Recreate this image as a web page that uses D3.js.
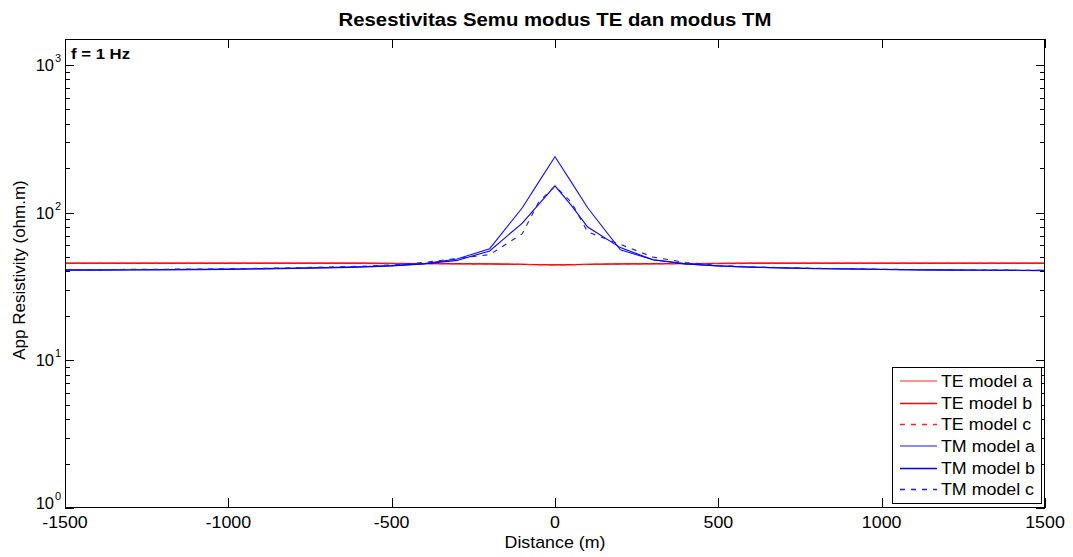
<!DOCTYPE html>
<html>
<head>
<meta charset="utf-8">
<script src="https://cdn.jsdelivr.net/npm/d3@7/dist/d3.min.js"></script>
<style>
  html, body { margin: 0; padding: 0; background: #fff; }
  svg { display: block; font-family: Arial, "Liberation Sans", Helvetica, sans-serif; }
</style>
</head>
<body>
<svg id="chart" width="1073" height="557"></svg>
<script>
// ---- data ----
const distance = [-1500,-1400,-1300,-1200,-1100,-1000,-900,-800,-700,-600,-500,-400,-300,-200,-100,-50,0,50,100,200,300,400,500,600,700,800,900,1000,1100,1200,1300,1400,1500];

const teModelA = [45.3,45.3,45.3,45.3,45.3,45.3,45.3,45.3,45.3,45.3,45.2,45.1,45.0,44.9,44.6,44.4,44.3,44.4,44.6,44.9,45.0,45.1,45.2,45.3,45.3,45.3,45.3,45.3,45.3,45.3,45.3,45.3,45.3];
const teModelB = [45.5,45.5,45.5,45.5,45.5,45.5,45.5,45.5,45.5,45.5,45.4,45.3,45.2,45.0,44.7,44.5,44.4,44.5,44.7,45.0,45.2,45.3,45.4,45.5,45.5,45.5,45.5,45.5,45.5,45.5,45.5,45.5,45.5];
const teModelC = [45.4,45.4,45.4,45.4,45.4,45.4,45.4,45.4,45.4,45.4,45.3,45.2,45.1,44.9,44.6,44.4,44.2,44.4,44.6,44.9,45.1,45.2,45.3,45.4,45.4,45.4,45.4,45.4,45.4,45.4,45.4,45.4,45.4];

const tmModelA = [41.0,41.0,41.1,41.2,41.3,41.5,41.8,42.1,42.5,43.0,43.8,45.2,48.5,57.0,108,161,239,161,108,56.0,48.0,45.0,43.6,42.8,42.3,41.9,41.6,41.3,41.1,41.0,40.9,40.8,40.7];
const tmModelB = [40.8,40.8,40.9,41.0,41.1,41.3,41.6,41.9,42.3,42.8,43.6,45.0,47.5,55.0,85.0,114,152,112,80.0,58.0,48.0,45.0,43.5,42.7,42.2,41.8,41.5,41.2,41.0,40.8,40.7,40.6,40.5];
const tmModelC = [41.2,41.2,41.3,41.4,41.5,41.7,42.0,42.3,42.8,43.3,44.2,46.0,49.0,52.0,72.0,118,152,118,74.0,61.0,50.0,46.0,44.0,43.0,42.4,42.0,41.7,41.4,41.2,41.0,40.9,40.8,40.7];

const seriesNames = ["TE model a","TE model b","TE model c","TM model a","TM model b","TM model c"];
const seriesValues = [teModelA, teModelB, teModelC, tmModelA, tmModelB, tmModelC];

const xTicks = [-1500,-1000,-500,0,500,1000,1500];
const yMajorTicks = [1,10,100,1000];
const yLimits = [1,1500];
const xLimits = [-1500,1500];

const titleText = "Resestivitas Semu modus TE dan modus TM";
const xLabelText = "Distance (m)";
const yLabelText = "App Resistivity (ohm.m)";
const noteText = "f = 1 Hz";

// ---- styles ----
const styles = [
  {color:"#ff2020", width:1.2, dash:null},
  {color:"#ff0000", width:1.1, dash:null},
  {color:"#ff2020", width:1.1, dash:"5,6"},
  {color:"#1010ff", width:1.1, dash:null},
  {color:"#0000ff", width:1.1, dash:null},
  {color:"#1a1aff", width:1.1, dash:"5,6"}
];
const SX = 1.08; // horizontal stretch of the reference's text

const svg = d3.select("#chart");
const L = 65, R = 1045, T = 39, B = 508;

const x = d3.scaleLinear().domain(xLimits).range([L, R]);
const y = d3.scaleLog().domain(yLimits).range([B, T]);

function addText(parent, px, py, str, size, anchor, bold, sx) {
  return parent.append("text")
    .attr("transform", `translate(${px},${py}) scale(${sx === undefined ? SX : sx},1)`)
    .attr("text-anchor", anchor || "start")
    .attr("font-size", size)
    .attr("font-weight", bold ? "bold" : "normal")
    .attr("fill", "#000")
    .text(str);
}

// lines
const plotG = svg.append("g");
plotG.append("clipPath").attr("id","clip").append("rect")
  .attr("x",L).attr("y",T).attr("width",R-L).attr("height",B-T);
const lineGen = d3.line().x(d => x(d[0])).y(d => y(d[1]));
seriesValues.forEach((vals, i) => {
  const pts = distance.map((d, j) => [d, vals[j]]);
  plotG.append("path")
    .attr("clip-path","url(#clip)")
    .attr("d", lineGen(pts))
    .attr("fill","none")
    .attr("stroke", styles[i].color)
    .attr("stroke-width", styles[i].width)
    .attr("stroke-dasharray", styles[i].dash);
});

// axes frame
const axG = svg.append("g").attr("stroke","#000").attr("stroke-width",1).attr("fill","none");
axG.append("rect").attr("x",L+0.5).attr("y",T+0.5).attr("width",R-L-1).attr("height",B-T-1);

// x ticks (inward, bottom and top)
xTicks.forEach(t => {
  const px = Math.round(x(t)) + 0.5;
  axG.append("line").attr("x1",px).attr("x2",px).attr("y1",B).attr("y2",B-10);
  axG.append("line").attr("x1",px).attr("x2",px).attr("y1",T).attr("y2",T+9);
});

// y ticks (log, major + minor), left and right, inward
const yMinor = [];
for (let e = 0; e < 4; e++) for (let m = 2; m <= 9; m++) {
  const v = m * Math.pow(10, e);
  if (v <= yLimits[1]) yMinor.push(v);
}
yMajorTicks.forEach(t => {
  const py = Math.round(y(t)) + 0.5;
  axG.append("line").attr("x1",L).attr("x2",L+9).attr("y1",py).attr("y2",py);
  axG.append("line").attr("x1",R).attr("x2",R-9).attr("y1",py).attr("y2",py);
});
yMinor.forEach(t => {
  const py = Math.round(y(t)) + 0.5;
  axG.append("line").attr("x1",L).attr("x2",L+5).attr("y1",py).attr("y2",py);
  axG.append("line").attr("x1",R).attr("x2",R-5).attr("y1",py).attr("y2",py);
});

// x tick labels
const xl = svg.append("g");
xTicks.forEach(t => addText(xl, x(t), 527.5, String(t), 16.5, "middle"));

// y tick labels 10^k
const yl = svg.append("g");
yMajorTicks.forEach(t => {
  const e = Math.round(Math.log10(t));
  const by = (t === 1) ? y(t) + 0.5 : y(t) + 6;
  addText(yl, 54, by, "10", 16.5, "end", false, 1);
  addText(yl, 55, by - 9, String(e), 11, "start", false, 1);
});

// title
addText(svg, 555, 26, titleText, 18.5, "middle", true, 1.1);

// axis labels
addText(svg, 555, 548, xLabelText, 16.5, "middle");
svg.append("text").attr("transform","translate(25,270) rotate(-90)")
  .attr("text-anchor","middle").attr("font-size",17).attr("fill","#000").text(yLabelText);

// note
addText(svg, 71, 59, noteText, 15.5, "start", true);

// legend
const lg = svg.append("g");
lg.append("rect").attr("x",892.5).attr("y",367.5).attr("width",149).attr("height",136)
  .attr("fill","#fff").attr("stroke","#000").attr("stroke-width",1);
const rowY = [381, 403, 424, 446, 468, 489];
seriesNames.forEach((name, i) => {
  const yy = rowY[i] + ((i === 0 || i === 3) ? 0 : 0.5);
  lg.append("line").attr("x1",900).attr("x2",937).attr("y1",yy).attr("y2",yy)
    .attr("stroke", styles[i].color)
    .attr("stroke-width", (i === 0 || i === 3) ? 1.6 : 1.3)
    .attr("stroke-opacity", (i === 0 || i === 3) ? 0.65 : 1)
    .attr("stroke-dasharray", styles[i].dash);
  addText(lg, 941, rowY[i] + 6, name, 16.5, "start");
});
</script>
</body>
</html>
